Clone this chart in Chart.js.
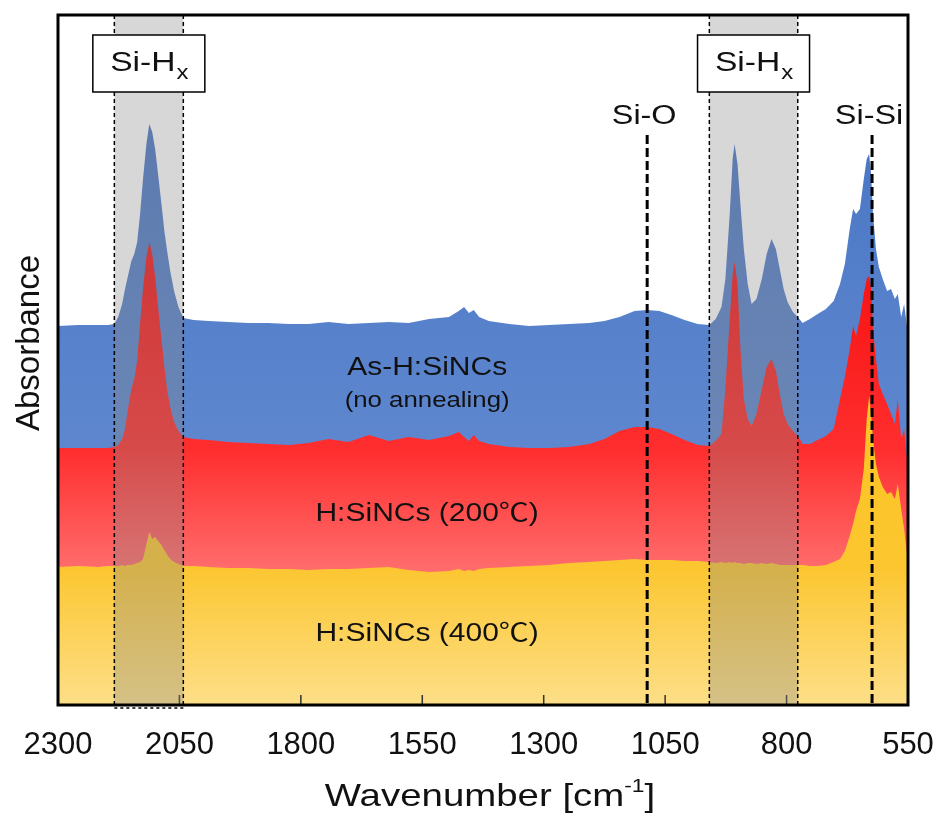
<!DOCTYPE html>
<html>
<head>
<meta charset="utf-8">
<script src="https://cdn.jsdelivr.net/npm/chart.js@4"></script>
<style>
  html, body { margin: 0; padding: 0; background: #fff; }
  canvas { display: block; }
</style>
</head>
<body>
<canvas id="chart" width="944" height="816"></canvas>
<script>
const FONT = "'Liberation Sans', Arial, 'Noto Sans CJK JP', sans-serif"

// wavenumber [cm-1], sampled along the spectra
const wavenumbers = [
  2300, 2259, 2217, 2197, 2184, 2176, 2168, 2162, 2156, 2149, 2143, 2137, 2131, 2125, 2118, 2112,
  2106, 2100, 2094, 2087, 2081, 2075, 2069, 2061, 2052, 2042, 2021, 1990, 1949, 1908, 1867, 1825,
  1784, 1743, 1702, 1660, 1619, 1578, 1536, 1495, 1475, 1464, 1454, 1444, 1433, 1413, 1371, 1330,
  1289, 1248, 1206, 1175, 1144, 1113, 1086, 1062, 1037, 1010, 983, 959, 946, 934, 926, 917,
  911, 907, 901, 895, 888, 880, 872, 862, 851, 841, 831, 822, 814, 806, 798, 787,
  777, 767, 752, 736, 719, 703, 690, 680, 670, 663, 657, 649, 641, 635, 630, 626,
  622, 616, 610, 602, 593, 585, 577, 571, 564, 558, 550,
]

// absorbance (offset, a.u.)
const asPrepared = [
  3.79, 3.80, 3.80, 3.80, 3.81, 3.88, 4.01, 4.16, 4.29, 4.44, 4.51, 4.63, 4.91, 5.26, 5.61, 5.81,
  5.73, 5.56, 5.31, 5.01, 4.74, 4.53, 4.34, 4.14, 3.98, 3.87, 3.85, 3.84, 3.83, 3.82, 3.82, 3.81,
  3.81, 3.83, 3.81, 3.82, 3.83, 3.82, 3.86, 3.88, 3.94, 3.98, 3.92, 3.95, 3.88, 3.84, 3.81, 3.79,
  3.80, 3.81, 3.82, 3.84, 3.88, 3.94, 3.95, 3.94, 3.90, 3.85, 3.81, 3.80, 3.86, 3.98, 4.26, 4.91,
  5.46, 5.61, 5.41, 5.01, 4.56, 4.21, 4.01, 4.06, 4.26, 4.51, 4.66, 4.56, 4.36, 4.16, 4.03, 3.93,
  3.88, 3.82, 3.86, 3.91, 3.96, 4.04, 4.21, 4.41, 4.76, 4.96, 4.91, 4.96, 5.26, 5.46, 5.51, 5.31,
  4.91, 4.56, 4.38, 4.26, 4.14, 4.16, 4.06, 4.11, 3.88, 4.01, 3.71,
]

const annealed200 = [
  2.57, 2.57, 2.57, 2.57, 2.58, 2.60, 2.66, 2.76, 2.96, 3.16, 3.26, 3.44, 3.81, 4.16, 4.48, 4.63,
  4.51, 4.28, 3.98, 3.66, 3.38, 3.14, 2.98, 2.83, 2.74, 2.68, 2.66, 2.65, 2.63, 2.62, 2.61, 2.60,
  2.62, 2.66, 2.63, 2.70, 2.64, 2.68, 2.65, 2.69, 2.73, 2.68, 2.64, 2.70, 2.64, 2.61, 2.58, 2.57,
  2.57, 2.58, 2.61, 2.66, 2.74, 2.78, 2.78, 2.76, 2.71, 2.65, 2.60, 2.59, 2.64, 2.71, 3.16, 3.86,
  4.31, 4.43, 4.21, 3.56, 3.06, 2.86, 2.79, 2.91, 3.16, 3.38, 3.46, 3.34, 3.11, 2.91, 2.81, 2.74,
  2.69, 2.61, 2.61, 2.65, 2.69, 2.76, 3.06, 3.28, 3.56, 3.79, 3.69, 3.86, 4.11, 4.26, 4.29, 4.16,
  3.76, 3.46, 3.21, 3.11, 3.01, 2.91, 2.81, 3.06, 2.66, 2.76, 2.36,
]

const annealed400 = [
  1.38, 1.39, 1.38, 1.39, 1.39, 1.39, 1.40, 1.39, 1.40, 1.40, 1.41, 1.42, 1.43, 1.46, 1.61, 1.73,
  1.66, 1.68, 1.64, 1.60, 1.55, 1.50, 1.46, 1.43, 1.41, 1.39, 1.39, 1.38, 1.37, 1.37, 1.36, 1.36,
  1.35, 1.36, 1.36, 1.37, 1.38, 1.35, 1.33, 1.34, 1.36, 1.34, 1.35, 1.34, 1.36, 1.37, 1.38, 1.39,
  1.40, 1.42, 1.43, 1.44, 1.45, 1.46, 1.45, 1.45, 1.45, 1.44, 1.44, 1.43, 1.42, 1.43, 1.42, 1.43,
  1.42, 1.43, 1.42, 1.42, 1.41, 1.42, 1.42, 1.41, 1.42, 1.41, 1.42, 1.41, 1.40, 1.40, 1.40, 1.40,
  1.40, 1.40, 1.39, 1.39, 1.40, 1.43, 1.46, 1.54, 1.69, 1.81, 1.94, 2.06, 2.36, 2.86, 3.09, 2.91,
  2.66, 2.41, 2.28, 2.18, 2.11, 2.13, 2.06, 2.21, 1.96, 1.76, 1.41,
]

const xTicks = [2300, 2050, 1800, 1550, 1300, 1050, 800, 550]

// shaded Si-Hx regions [high, low] in cm-1
const bandRanges = [[2184, 2042], [959, 777]]
const peakLines = [{ label: 'Si-O', wn: 1087 }, { label: 'Si-Si', wn: 624 }]

const seriesLabels = [
  { lines: ['As-H:SiNCs', '(no annealing)'], wn: 1540, y: 3.30 },
  { lines: ['H:SiNCs (200\u2103)'], wn: 1540, y: 1.84 },
  { lines: ['H:SiNCs (400\u2103)'], wn: 1540, y: 0.64 },
]

function toPoints(values) {
  return wavenumbers.map((w, i) => ({ x: w, y: values[i] }))
}

function verticalGradient(stops) {
  return (context) => {
    const { ctx, chartArea } = context.chart
    if (!chartArea)
      return stops[0][1]
    const g = ctx.createLinearGradient(0, chartArea.top, 0, chartArea.bottom)
    stops.forEach(([pos, color]) => g.addColorStop(pos, color))
    return g
  }
}

// text drawn a little wider than Liberation Sans, like the original figure
function wideText(ctx, text, cx, baseline, size, sx = 1.2) {
  ctx.save()
  ctx.font = `${size}px ${FONT}`
  ctx.textAlign = 'center'
  ctx.textBaseline = 'alphabetic'
  ctx.translate(cx, baseline)
  ctx.scale(sx, 1)
  ctx.fillText(text, 0, 0)
  ctx.restore()
}

function subscriptLabel(ctx, main, sub, cx, baseline) {
  ctx.save()
  ctx.font = `28px ${FONT}`
  const wMain = ctx.measureText(main).width * 1.2
  ctx.font = `20px ${FONT}`
  const wSub = ctx.measureText(sub).width * 1.2
  const left = cx - (wMain + wSub) / 2
  ctx.restore()
  wideText(ctx, main, left + wMain / 2, baseline, 28)
  wideText(ctx, sub, left + wMain + wSub / 2 + 1, baseline + 8, 20)
}

function dashedLine(ctx, x, y1, y2, width, dash) {
  ctx.save()
  ctx.strokeStyle = '#000'
  ctx.lineWidth = width
  ctx.setLineDash(dash)
  ctx.beginPath()
  ctx.moveTo(x, y1)
  ctx.lineTo(x, y2)
  ctx.stroke()
  ctx.restore()
}

const annotations = {
  id: 'annotations',
  afterDatasetsDraw(chart) {
    const { ctx, chartArea: a, scales: { x, y } } = chart
    ctx.save()

    // inner tick marks
    ctx.strokeStyle = '#333'
    ctx.lineWidth = 1.5
    xTicks.slice(1, -1).forEach((v) => {
      const px = x.getPixelForValue(v)
      ctx.beginPath()
      ctx.moveTo(px, a.bottom)
      ctx.lineTo(px, a.bottom - 10)
      ctx.stroke()
    })

    // Si-Hx bands
    bandRanges.forEach(([hi, lo], i) => {
      const x1 = x.getPixelForValue(hi)
      const x2 = x.getPixelForValue(lo)
      ctx.fillStyle = 'rgba(135, 135, 135, 0.33)'
      ctx.fillRect(x1, a.top, x2 - x1, a.bottom - a.top)
      dashedLine(ctx, x1, a.top, a.bottom, 1.5, [4, 3])
      dashedLine(ctx, x2, a.top, a.bottom, 1.5, [4, 3])
      if (i === 0) {
        ctx.save()
        ctx.strokeStyle = '#000'
        ctx.lineWidth = 1.5
        ctx.setLineDash([3, 3])
        ctx.beginPath()
        ctx.moveTo(x1, a.bottom + 3)
        ctx.lineTo(x2, a.bottom + 3)
        ctx.stroke()
        ctx.restore()
      }
      const cx = (x1 + x2) / 2
      const bw = 112
      ctx.fillStyle = '#fff'
      ctx.fillRect(cx - bw / 2, 35, bw, 57)
      ctx.strokeStyle = '#000'
      ctx.lineWidth = 1.5
      ctx.setLineDash([])
      ctx.strokeRect(cx - bw / 2, 35, bw, 57)
      ctx.fillStyle = '#111'
      subscriptLabel(ctx, 'Si-H', 'x', cx, 71)
    })

    // Si-O, Si-Si markers
    peakLines.forEach((p) => {
      const px = x.getPixelForValue(p.wn)
      dashedLine(ctx, px, 135, a.bottom, 3, [9, 4])
      ctx.fillStyle = '#111'
      wideText(ctx, p.label, px - 3, 124, 27)
    })

    // series names
    ctx.fillStyle = '#111'
    seriesLabels.forEach((s) => {
      const px = x.getPixelForValue(s.wn)
      const py = y.getPixelForValue(s.y)
      wideText(ctx, s.lines[0], px, py, 25)
      if (s.lines[1])
        wideText(ctx, s.lines[1], px, py + 32, 21.5)
    })
    ctx.restore()
  },
  afterDraw(chart) {
    const { ctx, chartArea: a } = chart
    ctx.save()
    ctx.strokeStyle = '#000'
    ctx.lineWidth = 3
    ctx.strokeRect(a.left, a.top, a.right - a.left, a.bottom - a.top)

    // axis titles
    ctx.fillStyle = '#111'
    ctx.save()
    ctx.translate(30, 343)
    ctx.rotate(-Math.PI / 2)
    ctx.font = `33px ${FONT}`
    ctx.textAlign = 'center'
    ctx.textBaseline = 'middle'
    ctx.fillText('Absorbance', 0, 0)
    ctx.restore()

    const main = 'Wavenumber [cm'
    const sup = '-1'
    const end = ']'
    ctx.font = `32px ${FONT}`
    const wMain = ctx.measureText(main).width * 1.2
    const wEnd = ctx.measureText(end).width * 1.2
    ctx.font = `19px ${FONT}`
    const wSup = ctx.measureText(sup).width * 1.2
    const cx = 490
    const left = cx - (wMain + wSup + wEnd) / 2
    const base = 806
    wideText(ctx, main, left + wMain / 2, base, 32)
    wideText(ctx, sup, left + wMain + wSup / 2, base - 14, 19)
    wideText(ctx, end, left + wMain + wSup + wEnd / 2, base, 32)
    ctx.restore()
  },
}

const datasets = [
  {
    label: 'As-H:SiNCs (no annealing)',
    data: toPoints(asPrepared),
    backgroundColor: verticalGradient([[0, '#416fbf'], [0.45, '#5781cb'], [1, '#6b93d6']]),
    order: 2,
  },
  {
    label: 'H:SiNCs (200\u2103)',
    data: toPoints(annealed200),
    backgroundColor: verticalGradient([[0, '#e01010'], [0.4, '#f81616'], [0.63, '#ff2e2e'], [0.8, '#ff6b6b'], [1, '#ff8585']]),
    order: 1,
  },
  {
    label: 'H:SiNCs (400\u2103)',
    data: toPoints(annealed400),
    backgroundColor: verticalGradient([[0, '#f8bf18'], [0.6, '#fbc424'], [0.8, '#fcc630'], [1, '#fddf88']]),
    order: 0,
  },
].map(d => ({ ...d, fill: 'origin', borderWidth: 0, borderColor: 'rgba(0,0,0,0)', pointRadius: 0, tension: 0 }))

new Chart(document.getElementById('chart'), {
  type: 'line',
  data: { datasets },
  options: {
    responsive: false,
    animation: false,
    devicePixelRatio: 1,
    layout: { padding: { top: 15, right: 36, left: 0, bottom: 0 } },
    plugins: { legend: { display: false }, tooltip: { enabled: false } },
    scales: {
      x: {
        type: 'linear',
        reverse: true,
        min: 550,
        max: 2300,
        afterBuildTicks: (scale) => { scale.ticks = xTicks.map(v => ({ value: v })) },
        ticks: {
          color: '#111',
          font: { size: 31, family: FONT },
          padding: 4,
          maxRotation: 0,
          autoSkip: false,
          callback: v => String(v),
        },
        // invisible outer tick marks only push the labels down
        grid: { display: true, drawOnChartArea: false, drawTicks: true, tickLength: 18, color: 'rgba(0,0,0,0)' },
        border: { display: false },
        afterFit: (scale) => { scale.height = 111 },
      },
      y: {
        min: 0,
        max: 6.9,
        ticks: { display: false },
        grid: { display: false, drawTicks: false },
        border: { display: false },
        afterFit: (scale) => { scale.width = 58 },
      },
    },
  },
  plugins: [annotations],
})
</script>
</body>
</html>
